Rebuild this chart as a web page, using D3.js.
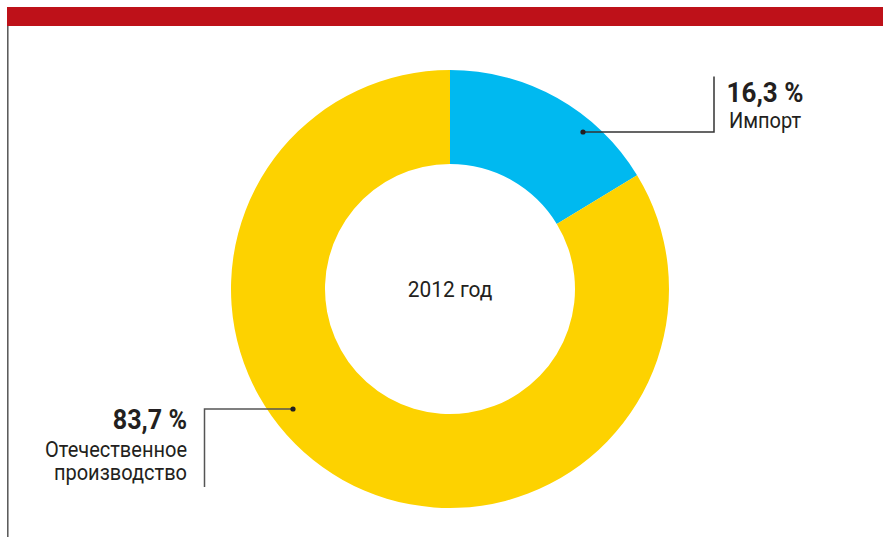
<!DOCTYPE html>
<html><head><meta charset="utf-8">
<script src="https://cdn.jsdelivr.net/npm/d3@7"></script>
<style>
html,body{margin:0;padding:0;background:#fff;}
text{font-family:"Roboto",sans-serif;fill:#231f20;}
</style></head>
<body><svg id="c" width="883" height="537"></svg>
<script>
const categories = ["Импорт", "Отечественное производство"];
const values = [16.3, 83.7];
const valueLabels = ["16,3 %", "83,7 %"];
const centerLabel = "2012 год";
const colors = ["#00b9f0", "#fdd200"];

const svg = d3.select("#c");
const W = 883, H = 537;

svg.append("rect").attr("x", 7).attr("y", 7).attr("width", W - 7).attr("height", 19).attr("fill", "#be1119");
svg.append("line").attr("x1", 7.8).attr("x2", 7.8).attr("y1", 26).attr("y2", H).attr("stroke", "#555").attr("stroke-width", 1.5);

const cx = 450, cy = 289, R = 219, r = 125;
const g = svg.append("g").attr("transform", `translate(${cx},${cy})`);
const pie = d3.pie().sort(null).value(d => d)(values);
const arc = d3.arc().innerRadius(r).outerRadius(R);
g.selectAll("path").data(pie).enter().append("path")
  .attr("d", arc).attr("fill", (d, i) => colors[i]);

function label(x, y, txt, size, weight, anchor, sx) {
  svg.append("text").attr("transform", `translate(${x},${y}) scale(${sx},1)`)
    .attr("text-anchor", anchor).style("font-size", size + "px")
    .style("font-weight", weight).text(txt);
}

label(cx, 297, centerLabel, 22, "normal", "middle", 0.95);

// leader for import
const dot0 = [583, 132];
svg.append("path").attr("d", `M${dot0[0]},${dot0[1]}H714V76.5`).attr("fill", "none").attr("stroke", "#333").attr("stroke-width", 1.5);
svg.append("circle").attr("cx", dot0[0]).attr("cy", dot0[1]).attr("r", 2.6).attr("fill", "#231f20");
label(765, 102, valueLabels[0], 28, "bold", "middle", 0.93);
label(765, 128, categories[0], 22.5, "normal", "middle", 0.89);

// leader for domestic
const dot1 = [293, 409];
svg.append("path").attr("d", `M${dot1[0]},${dot1[1]}H204.5V487`).attr("fill", "none").attr("stroke", "#555").attr("stroke-width", 1.5);
svg.append("circle").attr("cx", dot1[0]).attr("cy", dot1[1]).attr("r", 2.6).attr("fill", "#231f20");
label(187, 429, valueLabels[1], 27, "bold", "end", 0.93);
const words = categories[1].split(" ");
label(187, 457, words[0], 22.5, "normal", "end", 0.89);
label(187, 480, words[1], 22.5, "normal", "end", 0.89);
</script></body></html>
